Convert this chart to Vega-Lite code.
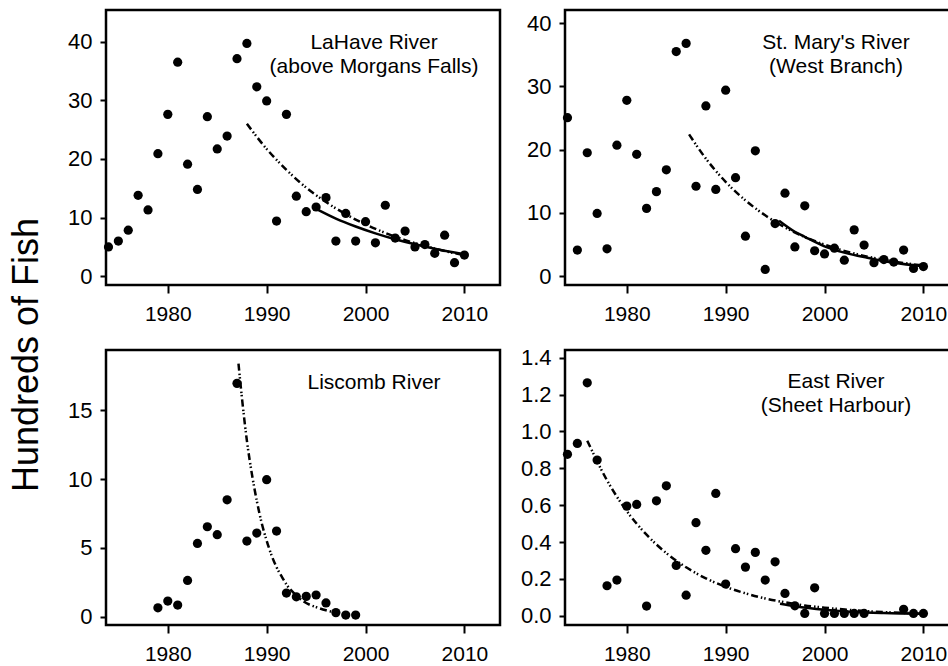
{
  "$schema": "https://vega.github.io/schema/vega-lite/v6.json",
  "padding": {"left": 9, "top": 8, "right": 0, "bottom": 0},
  "background": "white",
  "title": {"text": "Hundreds of Fish", "orient": "left", "anchor": "middle", "fontSize": 36, "fontWeight": "normal", "font": "Liberation Sans", "color": "black", "offset": 20, "dx": -18},
  "config": {
    "view": {"stroke": "black", "strokeWidth": 2.5},
    "axis": {"grid": false, "domain": false, "tickColor": "black", "tickWidth": 2, "labelFont": "Liberation Sans", "labelColor": "black"},
    "axisX": {"tickSize": 8, "labelPadding": 10, "labelFontSize": 21},
    "axisY": {"tickSize": 6, "labelPadding": 8, "labelFontSize": 22},
    "text": {"font": "Liberation Sans"}
  },
  "datasets": {
    "obs": [
      {"river": "LaHave", "year": 1974, "fish": 5.0},
      {"river": "LaHave", "year": 1975, "fish": 6.0},
      {"river": "LaHave", "year": 1976, "fish": 7.85},
      {"river": "LaHave", "year": 1977, "fish": 13.8},
      {"river": "LaHave", "year": 1978, "fish": 11.3},
      {"river": "LaHave", "year": 1979, "fish": 20.9},
      {"river": "LaHave", "year": 1980, "fish": 27.6},
      {"river": "LaHave", "year": 1981, "fish": 36.5},
      {"river": "LaHave", "year": 1982, "fish": 19.1},
      {"river": "LaHave", "year": 1983, "fish": 14.8},
      {"river": "LaHave", "year": 1984, "fish": 27.2},
      {"river": "LaHave", "year": 1985, "fish": 21.7},
      {"river": "LaHave", "year": 1986, "fish": 23.9},
      {"river": "LaHave", "year": 1987, "fish": 37.1},
      {"river": "LaHave", "year": 1988, "fish": 39.7},
      {"river": "LaHave", "year": 1989, "fish": 32.3},
      {"river": "LaHave", "year": 1990, "fish": 29.9},
      {"river": "LaHave", "year": 1991, "fish": 9.4},
      {"river": "LaHave", "year": 1992, "fish": 27.6},
      {"river": "LaHave", "year": 1993, "fish": 13.65},
      {"river": "LaHave", "year": 1994, "fish": 11.0},
      {"river": "LaHave", "year": 1995, "fish": 11.8},
      {"river": "LaHave", "year": 1996, "fish": 13.4},
      {"river": "LaHave", "year": 1997, "fish": 6.0},
      {"river": "LaHave", "year": 1998, "fish": 10.7},
      {"river": "LaHave", "year": 1999, "fish": 6.0},
      {"river": "LaHave", "year": 2000, "fish": 9.3},
      {"river": "LaHave", "year": 2001, "fish": 5.7},
      {"river": "LaHave", "year": 2002, "fish": 12.1},
      {"river": "LaHave", "year": 2003, "fish": 6.5},
      {"river": "LaHave", "year": 2004, "fish": 7.7},
      {"river": "LaHave", "year": 2005, "fish": 5.0},
      {"river": "LaHave", "year": 2006, "fish": 5.4},
      {"river": "LaHave", "year": 2007, "fish": 3.9},
      {"river": "LaHave", "year": 2008, "fish": 7.0},
      {"river": "LaHave", "year": 2009, "fish": 2.3},
      {"river": "LaHave", "year": 2010, "fish": 3.6},

      {"river": "StMary", "year": 1974, "fish": 25.05},
      {"river": "StMary", "year": 1975, "fish": 4.1},
      {"river": "StMary", "year": 1976, "fish": 19.5},
      {"river": "StMary", "year": 1977, "fish": 9.9},
      {"river": "StMary", "year": 1978, "fish": 4.3},
      {"river": "StMary", "year": 1979, "fish": 20.7},
      {"river": "StMary", "year": 1980, "fish": 27.8},
      {"river": "StMary", "year": 1981, "fish": 19.25},
      {"river": "StMary", "year": 1982, "fish": 10.7},
      {"river": "StMary", "year": 1983, "fish": 13.35},
      {"river": "StMary", "year": 1984, "fish": 16.8},
      {"river": "StMary", "year": 1985, "fish": 35.5},
      {"river": "StMary", "year": 1986, "fish": 36.8},
      {"river": "StMary", "year": 1987, "fish": 14.2},
      {"river": "StMary", "year": 1988, "fish": 26.9},
      {"river": "StMary", "year": 1989, "fish": 13.7},
      {"river": "StMary", "year": 1990, "fish": 29.4},
      {"river": "StMary", "year": 1991, "fish": 15.55},
      {"river": "StMary", "year": 1992, "fish": 6.3},
      {"river": "StMary", "year": 1993, "fish": 19.8},
      {"river": "StMary", "year": 1994, "fish": 1.05},
      {"river": "StMary", "year": 1995, "fish": 8.3},
      {"river": "StMary", "year": 1996, "fish": 13.1},
      {"river": "StMary", "year": 1997, "fish": 4.6},
      {"river": "StMary", "year": 1998, "fish": 11.1},
      {"river": "StMary", "year": 1999, "fish": 4.0},
      {"river": "StMary", "year": 2000, "fish": 3.5},
      {"river": "StMary", "year": 2001, "fish": 4.4},
      {"river": "StMary", "year": 2002, "fish": 2.5},
      {"river": "StMary", "year": 2003, "fish": 7.3},
      {"river": "StMary", "year": 2004, "fish": 4.9},
      {"river": "StMary", "year": 2005, "fish": 2.1},
      {"river": "StMary", "year": 2006, "fish": 2.6},
      {"river": "StMary", "year": 2007, "fish": 2.2},
      {"river": "StMary", "year": 2008, "fish": 4.1},
      {"river": "StMary", "year": 2009, "fish": 1.2},
      {"river": "StMary", "year": 2010, "fish": 1.5},

      {"river": "Liscomb", "year": 1979, "fish": 0.65},
      {"river": "Liscomb", "year": 1980, "fish": 1.14},
      {"river": "Liscomb", "year": 1981, "fish": 0.85},
      {"river": "Liscomb", "year": 1982, "fish": 2.64},
      {"river": "Liscomb", "year": 1983, "fish": 5.33},
      {"river": "Liscomb", "year": 1984, "fish": 6.54},
      {"river": "Liscomb", "year": 1985, "fish": 5.96},
      {"river": "Liscomb", "year": 1986, "fish": 8.5},
      {"river": "Liscomb", "year": 1987, "fish": 16.96},
      {"river": "Liscomb", "year": 1988, "fish": 5.5},
      {"river": "Liscomb", "year": 1989, "fish": 6.08},
      {"river": "Liscomb", "year": 1990, "fish": 9.96},
      {"river": "Liscomb", "year": 1991, "fish": 6.23},
      {"river": "Liscomb", "year": 1992, "fish": 1.72},
      {"river": "Liscomb", "year": 1993, "fish": 1.45},
      {"river": "Liscomb", "year": 1994, "fish": 1.48},
      {"river": "Liscomb", "year": 1995, "fish": 1.58},
      {"river": "Liscomb", "year": 1996, "fish": 1.0},
      {"river": "Liscomb", "year": 1997, "fish": 0.3},
      {"river": "Liscomb", "year": 1998, "fish": 0.12},
      {"river": "Liscomb", "year": 1999, "fish": 0.12},

      {"river": "East", "year": 1974, "fish": 0.876},
      {"river": "East", "year": 1975, "fish": 0.935},
      {"river": "East", "year": 1976, "fish": 1.264},
      {"river": "East", "year": 1977, "fish": 0.845},
      {"river": "East", "year": 1978, "fish": 0.163},
      {"river": "East", "year": 1979, "fish": 0.194},
      {"river": "East", "year": 1980, "fish": 0.595},
      {"river": "East", "year": 1981, "fish": 0.604},
      {"river": "East", "year": 1982, "fish": 0.053},
      {"river": "East", "year": 1983, "fish": 0.624},
      {"river": "East", "year": 1984, "fish": 0.705},
      {"river": "East", "year": 1985, "fish": 0.273},
      {"river": "East", "year": 1986, "fish": 0.112},
      {"river": "East", "year": 1987, "fish": 0.505},
      {"river": "East", "year": 1988, "fish": 0.355},
      {"river": "East", "year": 1989, "fish": 0.664},
      {"river": "East", "year": 1990, "fish": 0.172},
      {"river": "East", "year": 1991, "fish": 0.364},
      {"river": "East", "year": 1992, "fish": 0.264},
      {"river": "East", "year": 1993, "fish": 0.344},
      {"river": "East", "year": 1994, "fish": 0.194},
      {"river": "East", "year": 1995, "fish": 0.293},
      {"river": "East", "year": 1996, "fish": 0.121},
      {"river": "East", "year": 1997, "fish": 0.054},
      {"river": "East", "year": 1998, "fish": 0.013},
      {"river": "East", "year": 1999, "fish": 0.152},
      {"river": "East", "year": 2000, "fish": 0.013},
      {"river": "East", "year": 2001, "fish": 0.013},
      {"river": "East", "year": 2002, "fish": 0.013},
      {"river": "East", "year": 2003, "fish": 0.013},
      {"river": "East", "year": 2004, "fish": 0.013},
      {"river": "East", "year": 2008, "fish": 0.035},
      {"river": "East", "year": 2009, "fish": 0.013},
      {"river": "East", "year": 2010, "fish": 0.013}
    ],
    "fits": [
      {"river": "LaHave", "fit": "dashdot", "year": 1988, "fish": 26.0},
      {"river": "LaHave", "fit": "dashdot", "year": 1990, "fish": 21.7},
      {"river": "LaHave", "fit": "dashdot", "year": 1992, "fish": 18.15},
      {"river": "LaHave", "fit": "dashdot", "year": 1994, "fish": 15.1},
      {"river": "LaHave", "fit": "dashdot", "year": 1996, "fish": 12.65},
      {"river": "LaHave", "fit": "dashdot", "year": 1998, "fish": 10.57},
      {"river": "LaHave", "fit": "dashdot", "year": 2000, "fish": 8.83},
      {"river": "LaHave", "fit": "dashdot", "year": 2002, "fish": 7.38},
      {"river": "LaHave", "fit": "dashdot", "year": 2004, "fish": 6.16},
      {"river": "LaHave", "fit": "dashdot", "year": 2006, "fish": 5.15},
      {"river": "LaHave", "fit": "dashdot", "year": 2008, "fish": 4.3},
      {"river": "LaHave", "fit": "dashdot", "year": 2010, "fish": 3.59},
      {"river": "LaHave", "fit": "solid", "year": 1995.1, "fish": 11.4},
      {"river": "LaHave", "fit": "solid", "year": 1997, "fish": 9.83},
      {"river": "LaHave", "fit": "solid", "year": 1999, "fish": 8.48},
      {"river": "LaHave", "fit": "solid", "year": 2001, "fish": 7.31},
      {"river": "LaHave", "fit": "solid", "year": 2003, "fish": 6.3},
      {"river": "LaHave", "fit": "solid", "year": 2005, "fish": 5.44},
      {"river": "LaHave", "fit": "solid", "year": 2007, "fish": 4.69},
      {"river": "LaHave", "fit": "solid", "year": 2009, "fish": 4.04},
      {"river": "LaHave", "fit": "solid", "year": 2010, "fish": 3.75},

      {"river": "StMary", "fit": "dashdot", "year": 1986.3, "fish": 22.4},
      {"river": "StMary", "fit": "dashdot", "year": 1988, "fish": 18.57},
      {"river": "StMary", "fit": "dashdot", "year": 1990, "fish": 14.9},
      {"river": "StMary", "fit": "dashdot", "year": 1992, "fish": 11.97},
      {"river": "StMary", "fit": "dashdot", "year": 1994, "fish": 9.6},
      {"river": "StMary", "fit": "dashdot", "year": 1996, "fish": 7.7},
      {"river": "StMary", "fit": "dashdot", "year": 1998, "fish": 6.18},
      {"river": "StMary", "fit": "dashdot", "year": 2000, "fish": 4.96},
      {"river": "StMary", "fit": "dashdot", "year": 2002, "fish": 3.98},
      {"river": "StMary", "fit": "dashdot", "year": 2004, "fish": 3.19},
      {"river": "StMary", "fit": "dashdot", "year": 2006, "fish": 2.57},
      {"river": "StMary", "fit": "dashdot", "year": 2008, "fish": 2.06},
      {"river": "StMary", "fit": "dashdot", "year": 2010, "fish": 1.65},
      {"river": "StMary", "fit": "solid", "year": 1995.4, "fish": 8.75},
      {"river": "StMary", "fit": "solid", "year": 1997, "fish": 7.0},
      {"river": "StMary", "fit": "solid", "year": 1998, "fish": 6.2},
      {"river": "StMary", "fit": "solid", "year": 2000, "fish": 4.7},
      {"river": "StMary", "fit": "solid", "year": 2002, "fish": 3.7},
      {"river": "StMary", "fit": "solid", "year": 2004, "fish": 3.0},
      {"river": "StMary", "fit": "solid", "year": 2005, "fish": 2.65},
      {"river": "StMary", "fit": "solid", "year": 2007, "fish": 2.1},
      {"river": "StMary", "fit": "solid", "year": 2010, "fish": 1.55},

      {"river": "Liscomb", "fit": "dashdot", "year": 1987.15, "fish": 18.4},
      {"river": "Liscomb", "fit": "dashdot", "year": 1987.5, "fish": 15.9},
      {"river": "Liscomb", "fit": "dashdot", "year": 1988, "fish": 12.8},
      {"river": "Liscomb", "fit": "dashdot", "year": 1988.5, "fish": 10.4},
      {"river": "Liscomb", "fit": "dashdot", "year": 1989, "fish": 8.43},
      {"river": "Liscomb", "fit": "dashdot", "year": 1989.5, "fish": 6.8},
      {"river": "Liscomb", "fit": "dashdot", "year": 1990, "fish": 5.53},
      {"river": "Liscomb", "fit": "dashdot", "year": 1990.5, "fish": 4.45},
      {"river": "Liscomb", "fit": "dashdot", "year": 1991, "fish": 3.6},
      {"river": "Liscomb", "fit": "dashdot", "year": 1991.5, "fish": 2.95},
      {"river": "Liscomb", "fit": "dashdot", "year": 1992, "fish": 2.35},
      {"river": "Liscomb", "fit": "dashdot", "year": 1993, "fish": 1.55},
      {"river": "Liscomb", "fit": "dashdot", "year": 1994, "fish": 1.0},
      {"river": "Liscomb", "fit": "dashdot", "year": 1995, "fish": 0.7},
      {"river": "Liscomb", "fit": "dashdot", "year": 1996, "fish": 0.47},
      {"river": "Liscomb", "fit": "dashdot", "year": 1997, "fish": 0.3},

      {"river": "East", "fit": "dashdot", "year": 1976, "fish": 0.95},
      {"river": "East", "fit": "dashdot", "year": 1978, "fish": 0.735},
      {"river": "East", "fit": "dashdot", "year": 1980, "fish": 0.568},
      {"river": "East", "fit": "dashdot", "year": 1982, "fish": 0.44},
      {"river": "East", "fit": "dashdot", "year": 1984, "fish": 0.34},
      {"river": "East", "fit": "dashdot", "year": 1986, "fish": 0.263},
      {"river": "East", "fit": "dashdot", "year": 1988, "fish": 0.203},
      {"river": "East", "fit": "dashdot", "year": 1990, "fish": 0.157},
      {"river": "East", "fit": "dashdot", "year": 1992, "fish": 0.122},
      {"river": "East", "fit": "dashdot", "year": 1994, "fish": 0.094},
      {"river": "East", "fit": "dashdot", "year": 1996, "fish": 0.073},
      {"river": "East", "fit": "dashdot", "year": 1998, "fish": 0.056},
      {"river": "East", "fit": "dashdot", "year": 2000, "fish": 0.044},
      {"river": "East", "fit": "dashdot", "year": 2003, "fish": 0.03},
      {"river": "East", "fit": "dashdot", "year": 2006, "fish": 0.02},
      {"river": "East", "fit": "dashdot", "year": 2010, "fish": 0.012},
      {"river": "East", "fit": "solid", "year": 1995.5, "fish": 0.065},
      {"river": "East", "fit": "solid", "year": 1997, "fish": 0.052},
      {"river": "East", "fit": "solid", "year": 2000, "fish": 0.033},
      {"river": "East", "fit": "solid", "year": 2003, "fish": 0.021},
      {"river": "East", "fit": "solid", "year": 2006, "fish": 0.015},
      {"river": "East", "fit": "solid", "year": 2010, "fish": 0.011}
    ],
    "labels": [
      {"river": "LaHave", "year": 2000.86, "fish": 39.77, "text": "LaHave River"},
      {"river": "LaHave", "year": 2000.86, "fish": 35.68, "text": "(above Morgans Falls)"},
      {"river": "StMary", "year": 2001.16, "fish": 36.87, "text": "St. Mary's River"},
      {"river": "StMary", "year": 2001.16, "fish": 33.07, "text": "(West Branch)"},
      {"river": "Liscomb", "year": 2000.86, "fish": 16.98, "text": "Liscomb River"},
      {"river": "East", "year": 2001.16, "fish": 1.268, "text": "East River"},
      {"river": "East", "year": 2001.16, "fish": 1.138, "text": "(Sheet Harbour)"}
    ]
  },
  "concat": [
    {
      "width": 394, "height": 275,
      "encoding": {
        "x": {"field": "year", "type": "quantitative", "scale": {"domain": [1973.75, 2013.6], "nice": false, "zero": false}, "axis": {"values": [1980, 1990, 2000, 2010], "format": "d", "title": null}},
        "y": {"field": "fish", "type": "quantitative", "scale": {"domain": [-1.5, 45.4], "nice": false, "zero": false}, "axis": {"values": [0, 10, 20, 30, 40], "title": null}}
      },
      "layer": [
        {"data": {"name": "fits"}, "transform": [{"filter": "datum.river == 'LaHave' && datum.fit == 'dashdot'"}], "mark": {"type": "line", "color": "black", "strokeWidth": 2.5, "strokeDash": [7, 3, 1.5, 2, 1.5, 3], "interpolate": "monotone"}},
        {"data": {"name": "fits"}, "transform": [{"filter": "datum.river == 'LaHave' && datum.fit == 'solid'"}], "mark": {"type": "line", "color": "black", "strokeWidth": 2.5, "interpolate": "monotone"}},
        {"data": {"name": "obs"}, "transform": [{"filter": "datum.river == 'LaHave'"}], "mark": {"type": "circle", "color": "black", "size": 85, "opacity": 1}},
        {"data": {"name": "labels"}, "transform": [{"filter": "datum.river == 'LaHave'"}], "mark": {"type": "text", "fontSize": 21, "align": "center", "baseline": "middle", "color": "black"}, "encoding": {"text": {"field": "text"}}}
      ]
    },
    {
      "width": 394, "height": 275,
      "encoding": {
        "x": {"field": "year", "type": "quantitative", "scale": {"domain": [1973.75, 2013.6], "nice": false, "zero": false}, "axis": {"values": [1980, 1990, 2000, 2010], "format": "d", "title": null}},
        "y": {"field": "fish", "type": "quantitative", "scale": {"domain": [-1.42, 42.08], "nice": false, "zero": false}, "axis": {"values": [0, 10, 20, 30, 40], "title": null}}
      },
      "layer": [
        {"data": {"name": "fits"}, "transform": [{"filter": "datum.river == 'StMary' && datum.fit == 'dashdot'"}], "mark": {"type": "line", "color": "black", "strokeWidth": 2.5, "strokeDash": [7, 3, 1.5, 2, 1.5, 3], "interpolate": "monotone"}},
        {"data": {"name": "fits"}, "transform": [{"filter": "datum.river == 'StMary' && datum.fit == 'solid'"}], "mark": {"type": "line", "color": "black", "strokeWidth": 2.5, "interpolate": "monotone"}},
        {"data": {"name": "obs"}, "transform": [{"filter": "datum.river == 'StMary'"}], "mark": {"type": "circle", "color": "black", "size": 85, "opacity": 1}},
        {"data": {"name": "labels"}, "transform": [{"filter": "datum.river == 'StMary'"}], "mark": {"type": "text", "fontSize": 21, "align": "center", "baseline": "middle", "color": "black"}, "encoding": {"text": {"field": "text"}}}
      ]
    },
    {
      "width": 394, "height": 275,
      "encoding": {
        "x": {"field": "year", "type": "quantitative", "scale": {"domain": [1973.75, 2013.6], "nice": false, "zero": false}, "axis": {"values": [1980, 1990, 2000, 2010], "format": "d", "title": null}},
        "y": {"field": "fish", "type": "quantitative", "scale": {"domain": [-0.6, 19.385], "nice": false, "zero": false}, "axis": {"values": [0, 5, 10, 15], "title": null}}
      },
      "layer": [
        {"data": {"name": "fits"}, "transform": [{"filter": "datum.river == 'Liscomb' && datum.fit == 'dashdot'"}], "mark": {"type": "line", "color": "black", "strokeWidth": 2.5, "strokeDash": [7, 3, 1.5, 2, 1.5, 3], "interpolate": "monotone"}},
        {"data": {"name": "obs"}, "transform": [{"filter": "datum.river == 'Liscomb'"}], "mark": {"type": "circle", "color": "black", "size": 85, "opacity": 1}},
        {"data": {"name": "labels"}, "transform": [{"filter": "datum.river == 'Liscomb'"}], "mark": {"type": "text", "fontSize": 21, "align": "center", "baseline": "middle", "color": "black"}, "encoding": {"text": {"field": "text"}}}
      ]
    },
    {
      "width": 394, "height": 275,
      "encoding": {
        "x": {"field": "year", "type": "quantitative", "scale": {"domain": [1973.75, 2013.6], "nice": false, "zero": false}, "axis": {"values": [1980, 1990, 2000, 2010], "format": "d", "title": null}},
        "y": {"field": "fish", "type": "quantitative", "scale": {"domain": [-0.05, 1.442], "nice": false, "zero": false}, "axis": {"values": [0, 0.2, 0.4, 0.6, 0.8, 1.0, 1.2, 1.4], "format": ".1f", "title": null}}
      },
      "layer": [
        {"data": {"name": "fits"}, "transform": [{"filter": "datum.river == 'East' && datum.fit == 'dashdot'"}], "mark": {"type": "line", "color": "black", "strokeWidth": 2.5, "strokeDash": [7, 3, 1.5, 2, 1.5, 3], "interpolate": "monotone"}},
        {"data": {"name": "fits"}, "transform": [{"filter": "datum.river == 'East' && datum.fit == 'solid'"}], "mark": {"type": "line", "color": "black", "strokeWidth": 2.5, "interpolate": "monotone"}},
        {"data": {"name": "obs"}, "transform": [{"filter": "datum.river == 'East'"}], "mark": {"type": "circle", "color": "black", "size": 85, "opacity": 1}},
        {"data": {"name": "labels"}, "transform": [{"filter": "datum.river == 'East'"}], "mark": {"type": "text", "fontSize": 21, "align": "center", "baseline": "middle", "color": "black"}, "encoding": {"text": {"field": "text"}}}
      ]
    }
  ],
  "columns": 2,
  "spacing": {"row": 19, "column": 17},
  "resolve": {"scale": {"x": "independent", "y": "independent"}}
}
